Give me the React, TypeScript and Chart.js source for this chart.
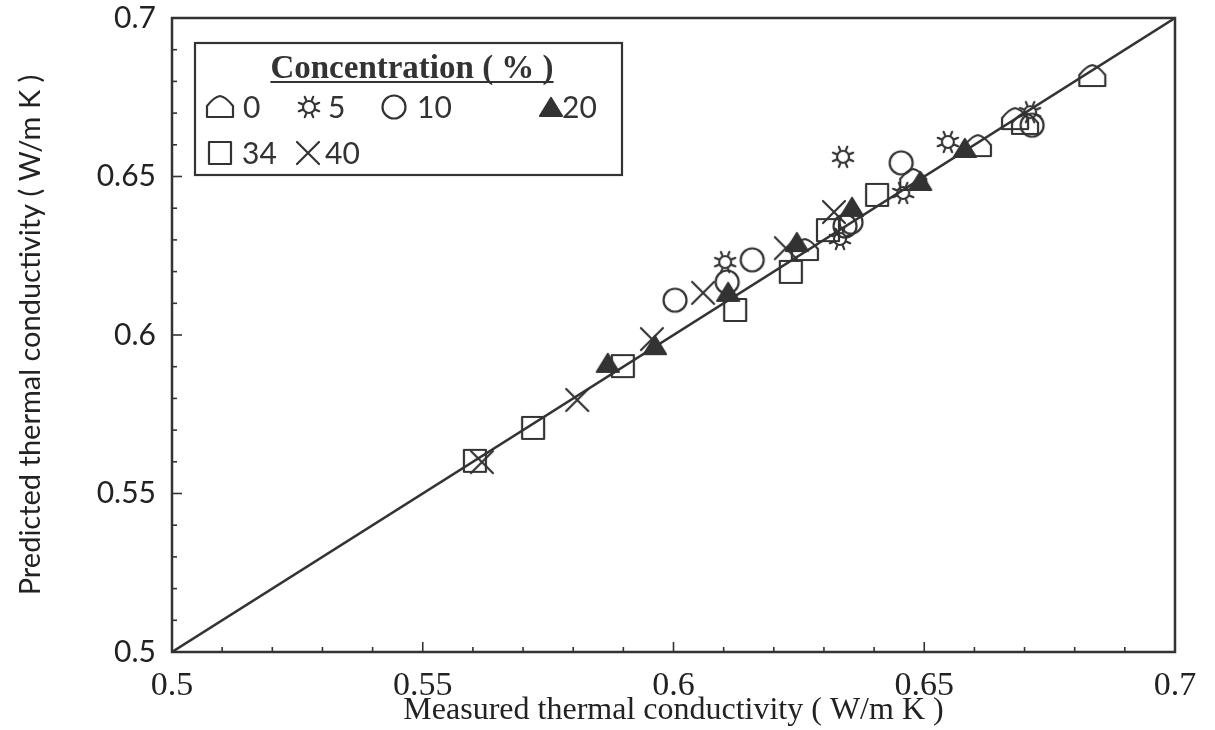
import React, { useEffect, useRef } from "react";
import { Chart, registerables } from "chart.js";

Chart.register(...registerables);

// ---- data (measured, predicted) per concentration ----
const conc0Measured = [0.6262, 0.6478, 0.6607, 0.6681, 0.6701, 0.6835];
const conc0Predicted = [0.6268, 0.6489, 0.6596, 0.6681, 0.6666, 0.6817];

const conc5Measured = [0.6103, 0.6332, 0.6338, 0.6458, 0.6547, 0.6711];
const conc5Predicted = [0.623, 0.6303, 0.6562, 0.6448, 0.6609, 0.6703];

const conc10Measured = [0.6003, 0.6107, 0.6157, 0.6342, 0.6354, 0.6454, 0.6715];
const conc10Predicted = [0.611, 0.6167, 0.6237, 0.6344, 0.6356, 0.6543, 0.6662];

const conc20Measured = [0.5869, 0.5963, 0.6109, 0.6246, 0.6356, 0.6492, 0.6581];
const conc20Predicted = [0.5912, 0.5968, 0.6136, 0.6293, 0.6404, 0.6486, 0.659];

const conc34Measured = [0.5604, 0.572, 0.5899, 0.6123, 0.6234, 0.6308, 0.6406];
const conc34Predicted = [0.5603, 0.5707, 0.5902, 0.6079, 0.6199, 0.6331, 0.6442];

const conc40Measured = [0.5618, 0.5808, 0.5957, 0.6059, 0.6224, 0.632];
const conc40Predicted = [0.5599, 0.5795, 0.5987, 0.6133, 0.6274, 0.6388];

const parityLine = [0.5, 0.7];

const axisTicks = [0.5, 0.55, 0.6, 0.65, 0.7];
const axisTickLabels = ["0.5", "0.55", "0.6", "0.65", "0.7"];
const minorStep = 0.01;

const legendTitle = "Concentration ( % )";
const legendLabels = ["0", "5", "10", "20", "34", "40"];
const legendShapes = ["house", "sun", "circle", "triangle", "square", "cross"];

const xTitle = "Measured thermal conductivity ( W/m K )";
const yTitle = "Predicted thermal conductivity ( W/m K )";

const INK = "#333333";

function makeMarker(kind: string): HTMLCanvasElement {
  const c = document.createElement("canvas");
  const s = 32;
  c.width = s;
  c.height = s;
  const ctx = c.getContext("2d") as CanvasRenderingContext2D;
  ctx.translate(s / 2, s / 2);
  ctx.strokeStyle = INK;
  ctx.fillStyle = INK;
  ctx.lineWidth = 2.2;
  ctx.lineJoin = "round";
  ctx.lineCap = "round";
  ctx.beginPath();
  if (kind === "house") {
    ctx.moveTo(-13, 10);
    ctx.lineTo(13, 10);
    ctx.lineTo(13, -1);
    ctx.quadraticCurveTo(6, -10, 0, -11);
    ctx.quadraticCurveTo(-6, -10, -13, -1);
    ctx.closePath();
    ctx.stroke();
  } else if (kind === "sun") {
    ctx.arc(0, 0, 6, 0, Math.PI * 2);
    ctx.stroke();
    ctx.beginPath();
    for (let i = 0; i < 8; i++) {
      const a = (i * Math.PI) / 4 + Math.PI / 8;
      ctx.moveTo(Math.cos(a) * 7.5, Math.sin(a) * 7.5);
      ctx.lineTo(Math.cos(a) * 11, Math.sin(a) * 11);
    }
    ctx.stroke();
  } else if (kind === "circle") {
    ctx.arc(0, 0, 11.5, 0, Math.PI * 2);
    ctx.stroke();
  } else if (kind === "triangle") {
    ctx.moveTo(0, -9);
    ctx.lineTo(11, 9);
    ctx.lineTo(-11, 9);
    ctx.closePath();
    ctx.fill();
    ctx.stroke();
  } else if (kind === "square") {
    ctx.rect(-11, -11, 22, 22);
    ctx.stroke();
  } else if (kind === "cross") {
    ctx.moveTo(-11, -11);
    ctx.lineTo(11, 11);
    ctx.moveTo(11, -11);
    ctx.lineTo(-11, 11);
    ctx.stroke();
  }
  return c;
}

const toPoints = (xs: number[], ys: number[]) => xs.map((x, i) => ({ x, y: ys[i] }));

export default function App() {
  const ref = useRef<HTMLCanvasElement | null>(null);

  useEffect(() => {
    if (!ref.current) return;
    const markers: Record<string, HTMLCanvasElement> = {};
    legendShapes.forEach((k) => (markers[k] = makeMarker(k)));

    const series = [
      { xs: conc0Measured, ys: conc0Predicted, shape: "house" },
      { xs: conc5Measured, ys: conc5Predicted, shape: "sun" },
      { xs: conc10Measured, ys: conc10Predicted, shape: "circle" },
      { xs: conc20Measured, ys: conc20Predicted, shape: "triangle" },
      { xs: conc34Measured, ys: conc34Predicted, shape: "square" },
      { xs: conc40Measured, ys: conc40Predicted, shape: "cross" },
    ];

    const datasets: any[] = series.map((s, i) => ({
      label: legendLabels[i],
      data: toPoints(s.xs, s.ys),
      pointStyle: markers[s.shape],
      pointRadius: 12,
      showLine: false,
      borderColor: INK,
      backgroundColor: INK,
    }));
    datasets.push({
      label: "parity",
      data: toPoints(parityLine, parityLine),
      showLine: true,
      pointRadius: 0,
      borderColor: "#333",
      borderWidth: 2.5,
    });

    const framePlugin = {
      id: "frameAndLegend",
      afterDraw(chart: any) {
        const { ctx, chartArea } = chart;
        const { left, right, top, bottom } = chartArea;
        const xs = chart.scales.x;
        const ys = chart.scales.y;
        ctx.save();
        ctx.strokeStyle = "#333";
        ctx.lineWidth = 1.6;
        const n = Math.round((xs.max - xs.min) / minorStep);
        for (let i = 1; i < n; i++) {
          const major = i % 5 === 0;
          const len = major ? 10 : 5;
          const px = xs.getPixelForValue(xs.min + i * minorStep);
          ctx.beginPath();
          ctx.moveTo(px, bottom);
          ctx.lineTo(px, bottom - len);
          ctx.stroke();
          const py = ys.getPixelForValue(ys.min + i * minorStep);
          ctx.beginPath();
          ctx.moveTo(left, py);
          ctx.lineTo(left + len, py);
          ctx.stroke();
        }
        ctx.lineWidth = 2.5;
        ctx.strokeRect(left, top, right - left, bottom - top);

        // legend box
        const bx = left + 23;
        const by = top + 25;
        const bw = 427;
        const bh = 132;
        ctx.fillStyle = "#ffffff";
        ctx.fillRect(bx, by, bw, bh);
        ctx.lineWidth = 2.2;
        ctx.strokeRect(bx, by, bw, bh);

        ctx.fillStyle = "#333";
        ctx.font = "bold 33px 'Liberation Serif'";
        ctx.textAlign = "center";
        ctx.textBaseline = "alphabetic";
        const tcx = bx + 217;
        const tby = by + 35;
        ctx.fillText(legendTitle, tcx, tby);
        const tw = ctx.measureText(legendTitle).width;
        ctx.lineWidth = 2;
        ctx.beginPath();
        ctx.moveTo(tcx - tw / 2, tby + 4);
        ctx.lineTo(tcx + tw / 2, tby + 4);
        ctx.stroke();

        const items = [
          { dx: 25, dy: 64, tx: 48 },
          { dx: 114, dy: 64, tx: 133 },
          { dx: 199, dy: 64, tx: 222 },
          { dx: 356, dy: 64, tx: 367 },
          { dx: 25, dy: 110, tx: 47 },
          { dx: 113, dy: 110, tx: 130 },
        ];
        ctx.font = "30px Lato";
        ctx.textAlign = "left";
        ctx.textBaseline = "middle";
        items.forEach((it, i) => {
          const m = markers[legendShapes[i]];
          ctx.drawImage(m, bx + it.dx - m.width / 2, by + it.dy - m.height / 2);
          ctx.fillStyle = "#333";
          ctx.fillText(legendLabels[i], bx + it.tx, by + it.dy + 1);
        });
        ctx.restore();
      },
    };

    const tickLabel = (v: any) => {
      const idx = axisTicks.findIndex((t) => Math.abs(t - v) < 1e-9);
      return idx >= 0 ? axisTickLabels[idx] : "";
    };

    const chart = new Chart(ref.current, {
      type: "scatter",
      data: { datasets },
      options: {
        responsive: false,
        animation: false,
        events: [],
        layout: { padding: { left: 0, top: 18, right: 40, bottom: 0 } },
        plugins: { legend: { display: false }, tooltip: { enabled: false } },
        scales: {
          x: {
            type: "linear",
            min: 0.5,
            max: 0.7,
            afterBuildTicks: (s: any) => {
              s.ticks = axisTicks.map((v) => ({ value: v }));
            },
            afterFit: (s: any) => {
              s.height = 78;
              s.paddingLeft = 0;
              s.paddingRight = 0;
            },
            grid: { display: false, drawTicks: false },
            border: { display: false },
            ticks: {
              color: "#222",
              font: { family: "'Liberation Serif'", size: 34 },
              padding: 14,
              maxRotation: 0,
              callback: tickLabel,
            },
            title: {
              display: true,
              text: xTitle,
              color: "#222",
              font: { family: "'Liberation Serif'", size: 32 },
              padding: { top: 0, bottom: 0 },
            },
          },
          y: {
            type: "linear",
            min: 0.5,
            max: 0.7,
            afterBuildTicks: (s: any) => {
              s.ticks = axisTicks.map((v) => ({ value: v }));
            },
            afterFit: (s: any) => {
              s.width = 172;
              s.paddingTop = 0;
              s.paddingBottom = 0;
            },
            grid: { display: false, drawTicks: false },
            border: { display: false },
            ticks: {
              color: "#222",
              font: { family: "Lato", size: 30 },
              padding: 16,
              callback: tickLabel,
            },
            title: {
              display: true,
              text: yTitle,
              color: "#222",
              font: { family: "Lato", size: 29 },
              padding: { top: 13, bottom: 0 },
            },
          },
        },
      },
      plugins: [framePlugin],
    } as any);
    return () => chart.destroy();
  }, []);

  return (
    <div style={{ position: "absolute", left: 0, top: 0, width: 1215, height: 730, background: "#fff" }}>
      <canvas ref={ref} width={1215} height={730} style={{ display: "block" }} />
    </div>
  );
}
